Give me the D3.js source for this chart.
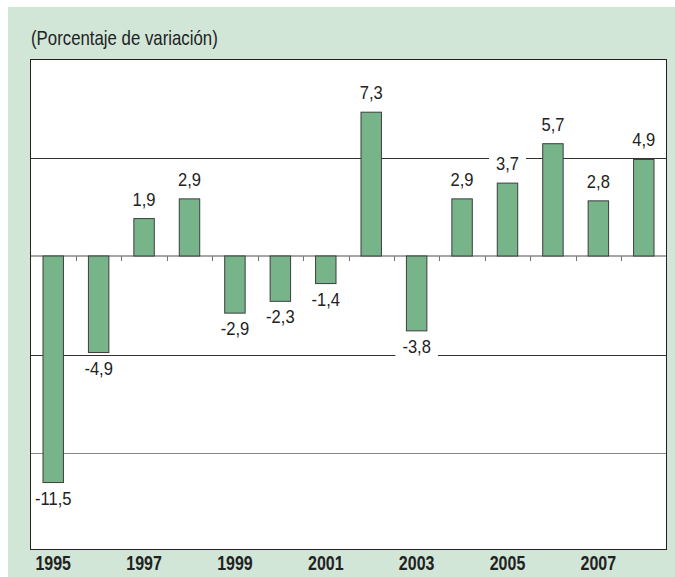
<!DOCTYPE html>
<html>
<head>
<meta charset="utf-8">
<script src="https://cdn.jsdelivr.net/npm/d3@7"></script>
<style>
  html, body { margin: 0; padding: 0; background: #fff; }
  svg { display: block; }
</style>
</head>
<body>
<div id="chart"></div>
<script>
// Data
const years = ["1995", "1996", "1997", "1998", "1999", "2000", "2001",
               "2002", "2003", "2004", "2005", "2006", "2007", "2008"];
const values = [-11.5, -4.9, 1.9, 2.9, -2.9, -2.3, -1.4, 7.3, -3.8, 2.9, 3.7, 5.7, 2.8, 4.9];
const yearLabels = ["1995", "1997", "1999", "2001", "2003", "2005", "2007"];
const gridValues = [5, -5, -10];
const title = "(Porcentaje de variación)";

const width = 675;
const height = 577;
const plotLeft = 30, plotRight = 666, plotTop = 59, plotBottom = 549;

const font = "'Liberation Sans', Arial, Helvetica, sans-serif";
const squeeze = 0.82; // the original uses a condensed Helvetica

const data = years.map((y, i) => ({ year: y, value: values[i] }));
const fmt = v => d3.format(".1f")(v).replace("−", "-").replace(".", ",");

const svg = d3.select("#chart")
    .append("svg")
    .attr("width", width)
    .attr("height", height);

// Panel background
svg.append("rect")
    .attr("x", 8).attr("y", 7)
    .attr("width", width - 8).attr("height", height - 7)
    .attr("fill", "#d2e6d8");

svg.append("text")
    .attr("transform", `translate(31,45) scale(${squeeze},1)`)
    .style("font-family", font)
    .style("font-size", "20.5px")
    .style("fill", "#222")
    .text(title);

const x = d3.scaleBand()
    .domain(years)
    .range([plotLeft + 0.5, plotRight + 0.5])
    .paddingInner(0.55)
    .paddingOuter(0.275);

const y = d3.scaleLinear()
    .domain([-10, 10])
    .range([453, 59]);

// Plot area
svg.append("rect")
    .attr("x", plotLeft).attr("y", plotTop)
    .attr("width", plotRight - plotLeft).attr("height", plotBottom - plotTop)
    .attr("fill", "#fff");

svg.append("clipPath").attr("id", "plot-clip")
    .append("rect")
    .attr("x", plotLeft).attr("y", plotTop)
    .attr("width", plotRight - plotLeft).attr("height", plotBottom - plotTop);

// Gridlines
svg.selectAll(".grid")
    .data(gridValues)
    .join("line")
    .attr("class", "grid")
    .attr("x1", plotLeft).attr("x2", plotRight)
    .attr("y1", d => Math.round(y(d)) + 0.5)
    .attr("y2", d => Math.round(y(d)) + 0.5)
    .attr("stroke", d => d === -10 ? "#888" : "#333")
    .attr("stroke-width", 1);

// Value labels (with white boxes that mask gridlines)
const labels = svg.append("g").attr("clip-path", "url(#plot-clip)");
const labelText = labels.selectAll("text")
    .data(data)
    .join("text")
    .attr("transform", d => {
        const ty = d.value >= 0 ? y(d.value) - 13 : y(d.value) + 22;
        return `translate(${x(d.year) + x.bandwidth() / 2},${ty}) scale(0.92,1)`;
    })
    .attr("text-anchor", "middle")
    .style("font-family", font)
    .style("font-size", "18px")
    .style("fill", "#222")
    .text(d => fmt(d.value));

labelText.each(function(d) {
    const b = this.getBBox();
    const cx = x(d.year) + x.bandwidth() / 2;
    const ty = d.value >= 0 ? y(d.value) - 13 : y(d.value) + 22;
    const w = b.width * 0.92;
    labels.insert("rect", "text")
        .attr("x", cx - w / 2 - 7).attr("y", ty + b.y - 1)
        .attr("width", w + 14).attr("height", b.height + 2)
        .attr("fill", "#fff");
});

// Zero line and ticks between bars
svg.append("line")
    .attr("x1", plotLeft).attr("x2", plotRight)
    .attr("y1", y(0)).attr("y2", y(0))
    .attr("stroke", "#888")
    .attr("stroke-width", 1.5);

svg.selectAll(".tick")
    .data(years.slice(1))
    .join("line")
    .attr("class", "tick")
    .attr("x1", d => Math.round(x(d) - x.step() * x.paddingInner() / 2) + 0.5)
    .attr("x2", d => Math.round(x(d) - x.step() * x.paddingInner() / 2) + 0.5)
    .attr("y1", y(0)).attr("y2", y(0) + 5)
    .attr("stroke", "#777");

// Bars
svg.selectAll(".bar")
    .data(data)
    .join("rect")
    .attr("class", "bar")
    .attr("x", d => x(d.year))
    .attr("y", d => y(Math.max(0, d.value)))
    .attr("width", x.bandwidth())
    .attr("height", d => Math.abs(y(d.value) - y(0)))
    .attr("fill", "#77b48a")
    .attr("stroke", "#3d3d3d")
    .attr("stroke-width", 1);

labels.raise();

// Frame
svg.append("rect")
    .attr("x", plotLeft + 0.5).attr("y", plotTop + 0.5)
    .attr("width", plotRight - plotLeft).attr("height", plotBottom - plotTop)
    .attr("fill", "none")
    .attr("stroke", "#222")
    .attr("stroke-width", 1);

// Year labels
svg.selectAll(".year")
    .data(yearLabels)
    .join("text")
    .attr("class", "year")
    .attr("transform", d => `translate(${x(d) + x.bandwidth() / 2},570) scale(${squeeze},1)`)
    .attr("text-anchor", "middle")
    .style("font-family", font)
    .style("font-weight", "bold")
    .style("font-size", "19.5px")
    .style("fill", "#222")
    .text(d => d);
</script>
</body>
</html>
